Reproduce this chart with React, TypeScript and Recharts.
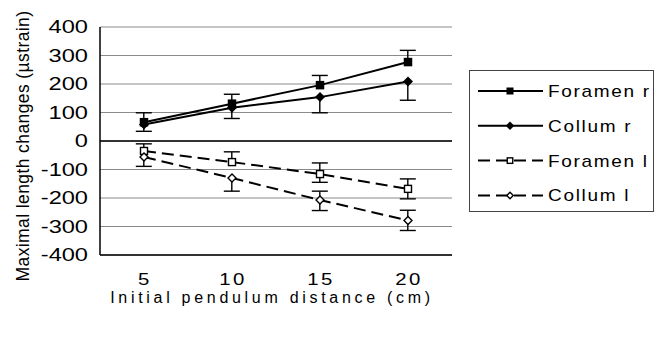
import React from "react";
import {
  Bar,
  CartesianGrid,
  ComposedChart,
  Legend,
  Line,
  ReferenceLine,
  XAxis,
  YAxis,
} from "recharts";

// pendulum distance (cm)
const distances = ["5", "10", "15", "20"];

// means (µstrain)
const foramenR = [66, 131, 196, 277];
const collumR = [58, 117, 154, 209];
const foramenL = [-35, -74, -116, -168];
const collumL = [-56, -130, -207, -279];

// error bars, plus and minus side (0 = not drawn)
const foramenRPlus = [33, 33, 34, 41];
const foramenRMinus = [0, 0, 0, 0];
const collumRPlus = [0, 0, 0, 0];
const collumRMinus = [24, 38, 55, 66];
const foramenLPlus = [25, 36, 39, 35];
const foramenLMinus = [0, 0, 29, 35];
const collumLPlus = [0, 0, 31, 36];
const collumLMinus = [33, 46, 37, 35];

const yTicks = [400, 300, 200, 100, 0, -100, -200, -300, -400];

const FONT = "'Liberation Sans', Arial, sans-serif";

const data = distances.map((x, i) => ({
  x,
  foramenR: foramenR[i],
  foramenRPlus: foramenRPlus[i],
  foramenRMinus: foramenRMinus[i],
  collumR: collumR[i],
  collumRPlus: collumRPlus[i],
  collumRMinus: collumRMinus[i],
  foramenL: foramenL[i],
  foramenLPlus: foramenLPlus[i],
  foramenLMinus: foramenLMinus[i],
  collumL: collumL[i],
  collumLPlus: collumLPlus[i],
  collumLMinus: collumLMinus[i],
}));

type Kind = "square" | "diamond" | "openSquare" | "openDiamond";

const series: { key: string; name: string; kind: Kind; dashed: boolean; size: number }[] = [
  { key: "foramenR", name: "Foramen r", kind: "square", dashed: false, size: 8.5 },
  { key: "collumR", name: "Collum r", kind: "diamond", dashed: false, size: 10 },
  { key: "foramenL", name: "Foramen l", kind: "openSquare", dashed: true, size: 7 },
  { key: "collumL", name: "Collum l", kind: "openDiamond", dashed: true, size: 8 },
];

function Marker({ cx, cy, kind, size }: { cx: number; cy: number; kind: Kind; size: number }) {
  const h = size / 2;
  const open = kind === "openSquare" || kind === "openDiamond";
  const fill = open ? "#fff" : "#000";
  const sw = open ? 1.4 : 0;
  if (kind === "square" || kind === "openSquare") {
    return <rect x={cx - h} y={cy - h} width={size} height={size} fill={fill} stroke="#000" strokeWidth={sw} />;
  }
  return (
    <polygon
      points={`${cx},${cy - h} ${cx + h},${cy} ${cx},${cy + h} ${cx - h},${cy}`}
      fill={fill}
      stroke="#000"
      strokeWidth={sw}
    />
  );
}

// error whisker drawn from a ranged bar: caps only on the sides that exist
const makeWhisker = (plusKey: string, minusKey: string) => (props: any) => {
  const { x, y, width, height, payload } = props;
  if (x == null || y == null) return <g />;
  const cx = x + width / 2;
  const top = Math.min(y, y + height);
  const bottom = Math.max(y, y + height);
  const cap = 8;
  return (
    <g stroke="#000" strokeWidth={1.4}>
      <line x1={cx} y1={top} x2={cx} y2={bottom} />
      {payload[plusKey] > 0 && <line x1={cx - cap} y1={top} x2={cx + cap} y2={top} />}
      {payload[minusKey] > 0 && <line x1={cx - cap} y1={bottom} x2={cx + cap} y2={bottom} />}
    </g>
  );
};

// the original's tick text is stretched sideways
const YTick = ({ x, y, payload }: any) => (
  <text
    transform={`translate(${x - 10},${y + 6}) scale(1.35,1)`}
    textAnchor="end"
    fontSize={17.5}
    fontFamily={FONT}
    fill="#000"
  >
    {payload.value}
  </text>
);

const XTick = ({ x, y, payload }: any) => (
  <text
    transform={`translate(${x + 1},${y + 28}) scale(1.2,1)`}
    textAnchor="middle"
    fontSize={17}
    letterSpacing={2}
    fontFamily={FONT}
    fill="#000"
  >
    {payload.value}
  </text>
);

const renderLegend = () => (
  <svg width={183} height={140} style={{ display: "block" }}>
    {series.map((s, i) => {
      const y = 20 + i * 34.8;
      return (
        <g key={s.key}>
          <line
            x1={8}
            y1={y}
            x2={73}
            y2={y}
            stroke="#000"
            strokeWidth={2}
            strokeDasharray={s.dashed ? "12 6" : undefined}
          />
          <Marker cx={40} cy={y} kind={s.kind} size={s.size - 1.5} />
          <text
            transform={`translate(78,${y + 6}) scale(1.12,1)`}
            fontSize={17}
            letterSpacing={1.5}
            fontFamily={FONT}
            fill="#000"
          >
            {s.name}
          </text>
        </g>
      );
    })}
  </svg>
);

export default function App() {
  return (
    <div style={{ position: "absolute", left: 0, top: 0, background: "#fff" }}>
      <ComposedChart width={661} height={338} data={data} margin={{ top: 27, right: 209, bottom: 0, left: 0 }}>
        <CartesianGrid vertical={false} stroke="#8a8a8a" />
        <XAxis
          dataKey="x"
          height={83}
          tickSize={0}
          tickLine={false}
          axisLine={{ stroke: "#000", strokeWidth: 1.5 }}
          tick={<XTick />}
          label={({ viewBox }: any) => (
            <text
              x={viewBox.x + viewBox.width / 2 - 4}
              y={viewBox.y + 48}
              textAnchor="middle"
              fontSize={16}
              letterSpacing={3.7}
              fontFamily={FONT}
              fill="#000"
            >
              Initial pendulum distance (cm)
            </text>
          )}
        />
        <XAxis xAxisId="w1" dataKey="x" hide />
        <XAxis xAxisId="w2" dataKey="x" hide />
        <XAxis xAxisId="w3" dataKey="x" hide />
        <XAxis xAxisId="w4" dataKey="x" hide />
        <YAxis
          width={100}
          domain={[-400, 400]}
          ticks={yTicks}
          interval={0}
          tickSize={0}
          tickLine={false}
          axisLine={{ stroke: "#000", strokeWidth: 1.5 }}
          tick={<YTick />}
          label={({ viewBox }: any) => {
            const cx = viewBox.x + 22.5;
            const cy = viewBox.y + viewBox.height / 2 + 5;
            return (
              <text
                x={cx}
                y={cy}
                dy="0.35em"
                transform={`rotate(-90 ${cx} ${cy})`}
                textAnchor="middle"
                fontSize={17.5}
                letterSpacing={0.4}
                fontFamily={FONT}
                fill="#000"
              >
                Maximal length changes (µstrain)
              </text>
            );
          }}
        />
        <YAxis
          yAxisId="frame"
          orientation="right"
          width={0}
          domain={[-400, 400]}
          tick={false}
          tickLine={false}
          axisLine={{ stroke: "#555" }}
        />
        <ReferenceLine y={0} stroke="#000" strokeWidth={1.5} />

        <Bar
          xAxisId="w1"
          dataKey={(d: any) => [d.foramenR - d.foramenRMinus, d.foramenR + d.foramenRPlus]}
          shape={makeWhisker("foramenRPlus", "foramenRMinus")}
          legendType="none"
          isAnimationActive={false}
        />
        <Bar
          xAxisId="w2"
          dataKey={(d: any) => [d.collumR - d.collumRMinus, d.collumR + d.collumRPlus]}
          shape={makeWhisker("collumRPlus", "collumRMinus")}
          legendType="none"
          isAnimationActive={false}
        />
        <Bar
          xAxisId="w3"
          dataKey={(d: any) => [d.foramenL - d.foramenLMinus, d.foramenL + d.foramenLPlus]}
          shape={makeWhisker("foramenLPlus", "foramenLMinus")}
          legendType="none"
          isAnimationActive={false}
        />
        <Bar
          xAxisId="w4"
          dataKey={(d: any) => [d.collumL - d.collumLMinus, d.collumL + d.collumLPlus]}
          shape={makeWhisker("collumLPlus", "collumLMinus")}
          legendType="none"
          isAnimationActive={false}
        />

        {series.map((s) => (
          <Line
            key={s.key}
            dataKey={s.key}
            name={s.name}
            type="linear"
            stroke="#000"
            strokeWidth={2}
            strokeDasharray={s.dashed ? "12 6" : undefined}
            dot={(p: any) => <Marker key={`${s.key}-${p.index}`} cx={p.cx} cy={p.cy} kind={s.kind} size={s.size} />}
            activeDot={false}
            isAnimationActive={false}
          />
        ))}

        <Legend
          layout="horizontal"
          align="center"
          verticalAlign="middle"
          content={renderLegend}
          wrapperStyle={{
            left: 469,
            top: 70,
            width: 185,
            height: 142,
            border: "1px solid #444",
            boxSizing: "border-box",
            background: "#fff",
          }}
        />
      </ComposedChart>
    </div>
  );
}
